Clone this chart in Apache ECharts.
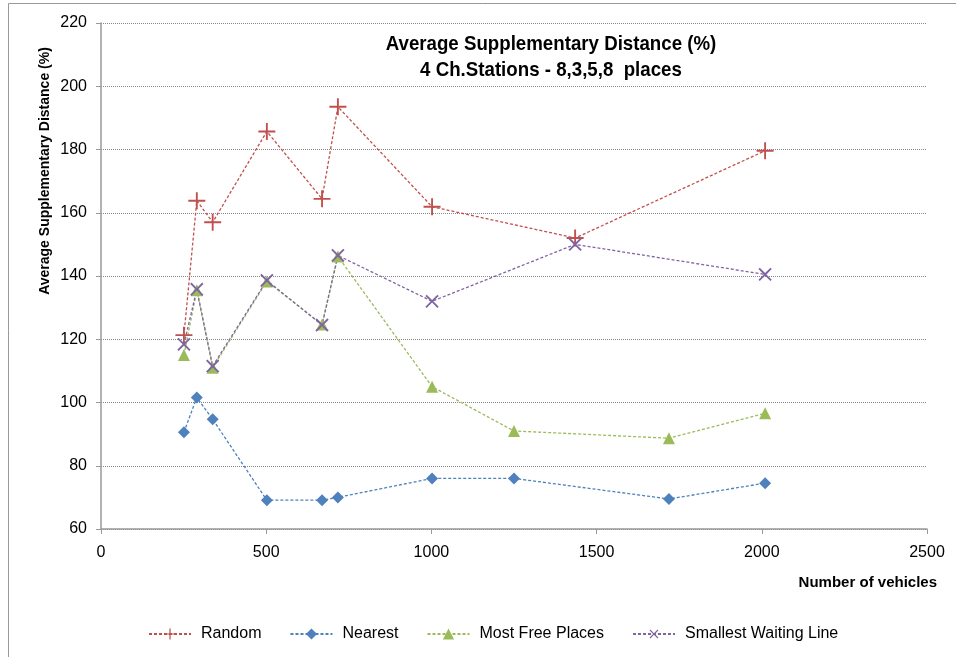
<!DOCTYPE html>
<html>
<head>
<meta charset="utf-8">
<script src="https://cdn.jsdelivr.net/npm/echarts@6/dist/echarts.min.js"></script>
<style>
  html, body { margin: 0; padding: 0; background: #fff; }
  #chart { width: 956px; height: 657px; }
</style>
</head>
<body>
<div id="chart"></div>
<script>
// 数据
const randomX = [251, 290, 338, 502, 669, 717, 1002, 1435, 2010];
const randomY = [121.3, 163.8, 157, 185.7, 164.4, 193.5, 161.9, 152, 179.6];

const nearestX = [251, 290, 338, 502, 669, 717, 1002, 1250, 1719, 2010];
const nearestY = [90.6, 101.6, 94.7, 69.1, 69.1, 70, 76, 76, 69.5, 74.5];

const freeX = [251, 290, 338, 502, 669, 717, 1002, 1250, 1719, 2010];
const freeY = [115, 135.5, 111, 138.3, 124.7, 146.2, 105, 91, 88.7, 96.6];

const waitX = [251, 290, 338, 502, 669, 717, 1002, 1435, 2010];
const waitY = [118.4, 135.8, 111.5, 138.6, 124.5, 146.5, 132, 150, 140.5];

const seriesNames = ['Random', 'Nearest', 'Most Free Places', 'Smallest Waiting Line'];

const FONT = "'Liberation Sans Narrow', 'Arial Narrow', 'Liberation Sans', sans-serif";
// 十字形标记
const plusPath = 'path://M4.45,0 H5.55 V4.45 H10 V5.55 H5.55 V10 H4.45 V5.55 H0 V4.45 H4.45 Z';

const zip = (xs, ys) => xs.map((x, i) => [x, ys[i]]);

const myChart = echarts.init(document.getElementById('chart'));

function lineSeries(name, data, color, symbol, size, rotate) {
  return {
    name: name,
    type: 'line',
    data: data,
    symbol: symbol,
    symbolSize: size,
    symbolRotate: rotate || 0,
    lineStyle: { color: color, width: 1.3, type: [3, 2] },
    itemStyle: { color: color },
    emphasis: { disabled: true },
  };
}

const option = {
  animation: false,
  backgroundColor: '#fff',
  grid: { left: 101, right: 29, top: 23, bottom: 128 },
  graphic: [
    // 外框
    { type: 'line', shape: { x1: 8.5, y1: 3.5, x2: 956, y2: 3.5 }, style: { stroke: '#999', lineWidth: 1 } },
    { type: 'line', shape: { x1: 8.5, y1: 3.5, x2: 8.5, y2: 657 }, style: { stroke: '#999', lineWidth: 1 } },
    {
      type: 'text', x: 551, y: 57, scaleX: 0.89,
      style: {
        text: 'Average Supplementary Distance (%)\n4 Ch.Stations - 8,3,5,8  places',
        font: 'bold 21px ' + FONT, fill: '#000', align: 'center', verticalAlign: 'middle', lineHeight: 26,
      },
    },
    {
      type: 'text', x: 45, y: 171, rotation: Math.PI / 2,
      style: {
        text: 'Average Supplementary Distance (%)',
        font: 'bold 14px ' + FONT, fill: '#000', align: 'center', verticalAlign: 'middle',
      },
    },
    {
      type: 'text', x: 937, y: 583,
      style: {
        text: 'Number of vehicles',
        font: 'bold 15px ' + FONT, fill: '#000', align: 'right', verticalAlign: 'middle',
      },
    },
  ],
  legend: {
    data: seriesNames,
    top: 621,
    left: 143,
    itemWidth: 42,
    itemHeight: 14,
    itemGap: 28,
    textStyle: { fontFamily: FONT, fontSize: 16, color: '#000', padding: [0, 0, 0, 5] },
  },
  xAxis: {
    type: 'value',
    min: 0, max: 2500, interval: 500,
    axisLine: { show: true, lineStyle: { color: '#999', width: 1.5 } },
    axisTick: { show: true, length: 5, lineStyle: { color: '#999' } },
    axisLabel: {
      margin: 16, fontFamily: FONT, fontSize: 16, color: '#000',
      formatter: (v) => String(v),
    },
    splitLine: { show: false },
  },
  yAxis: {
    type: 'value',
    min: 60, max: 220, interval: 20,
    axisLine: { show: true, lineStyle: { color: '#999', width: 1.5 } },
    axisTick: { show: true, length: 5, lineStyle: { color: '#999' } },
    axisLabel: { margin: 14, fontFamily: FONT, fontSize: 16, color: '#000' },
    splitLine: { show: true, lineStyle: { color: '#888', width: 1, type: [1, 1] } },
  },
  series: [
    lineSeries('Random', zip(randomX, randomY), '#C0504D', plusPath, 17, 0),
    lineSeries('Nearest', zip(nearestX, nearestY), '#4F81BD', 'diamond', 12, 0),
    lineSeries('Most Free Places', zip(freeX, freeY), '#9BBB59', 'triangle', 12, 0),
    lineSeries('Smallest Waiting Line', zip(waitX, waitY), '#8064A2', plusPath, 17, 45),
  ],
};

myChart.setOption(option);
</script>
</body>
</html>
